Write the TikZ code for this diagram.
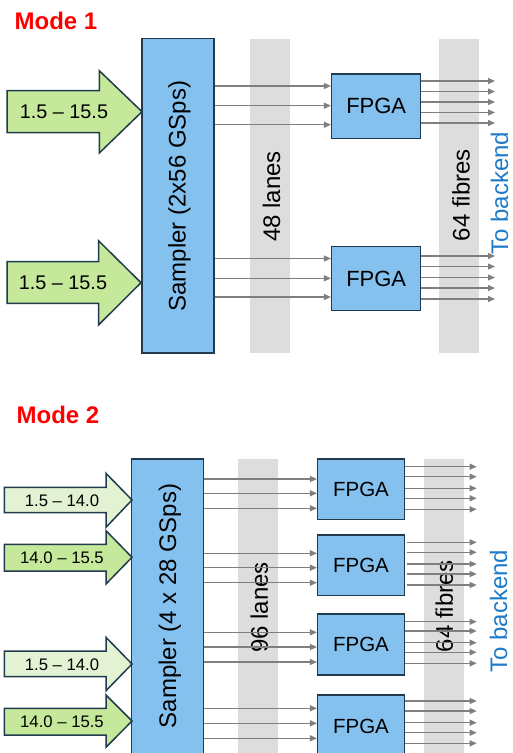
\documentclass[tikz,border=0pt]{standalone}
\usepackage{fontspec}
\setmainfont{Liberation Sans}
\usetikzlibrary{arrows.meta}
\definecolor{boxblue}{HTML}{85C1EE}
\definecolor{edgec}{HTML}{1F3B4D}
\definecolor{grn}{HTML}{C5E89B}
\definecolor{lgrn}{HTML}{E3F2D2}
\definecolor{bandc}{HTML}{DDDDDD}
\definecolor{wirec}{HTML}{7F7F7F}
\definecolor{backblue}{HTML}{1F7AC8}
\definecolor{modered}{HTML}{FF0000}
\begin{document}
\begin{tikzpicture}[x=1pt,y=-1pt,
  blk/.style={draw=edgec, line width=1.5pt, fill=boxblue, inner sep=0pt},
  bandbox/.style={fill=bandc, draw=none, inner sep=0pt, minimum width=40pt},
  wire/.style={draw=wirec, line width=1.3pt, -{Triangle[length=7pt,width=6pt]}},
  inarr/.style={draw=edgec, line width=1.5pt, line join=miter},
  big/.style={font=\fontsize{24}{28}\selectfont},
  backlbl/.style={font=\fontsize{24}{28}\selectfont, text=backblue, rotate=90, inner sep=0pt},
  modelbl/.style={font=\fontsize{24}{28}\selectfont\bfseries, text=modered},
  lbl/.style={font=\fontsize{19.8}{22}\selectfont},
  slbl/.style={font=\fontsize{16.7}{19}\selectfont}
]
\useasboundingbox (0,0) rectangle (513,753);
\clip (0,0) rectangle (513,753);

% ================= Mode 1 =================
\node[modelbl] (m1) at (56,20.5) {Mode 1};

\node[bandbox, minimum height=313.4pt] (B1) at (270,196) {};
\node[bandbox, minimum height=313.4pt] (B2) at (459.3,196) {};
\node[big, rotate=90] (B1t) at (271.5,196.5) {48 lanes};
\node[big, rotate=90] (B2t) at (461,195) {64 fibres};

\node[blk, minimum width=72pt, minimum height=314.3pt] (S1) at (178,195.85) {};
\node[big, rotate=90] (S1t) at (179.5,196) {Sampler (2x56 GSps)};

\node[blk, minimum width=89pt, minimum height=64.7pt] (F1a) at (376.2,106.35) {};
\node[font=\fontsize{22}{26}\selectfont] at (F1a) {FPGA};
\node[blk, minimum width=89pt, minimum height=64pt] (F1b) at (376.2,278.7) {};
\node[font=\fontsize{22}{26}\selectfont] at (F1b) {FPGA};

\draw[inarr, fill=grn] (7,90.7) -- (99.3,90.7) -- (99.3,70.7) -- (142,111.7) -- (99.3,153) -- (99.3,132.7) -- (7,132.7) -- cycle;
\node[lbl] (a1t) at (64,112) {1.5 – 15.5};
\draw[inarr, fill=grn] (7,261.7) -- (98.5,261.7) -- (98.5,240.7) -- (141,282.7) -- (98.5,325) -- (98.5,303.3) -- (7,303.3) -- cycle;
\node[lbl] (a2t) at (63,283) {1.5 – 15.5};

\foreach \y in {86,105.7,124.7} \draw[wire] (S1.east |- 0,\y) -- (F1a.west |- 0,\y);
\foreach \y in {258.5,278.3,297} \draw[wire] (S1.east |- 0,\y) -- (F1b.west |- 0,\y);
\foreach \y in {81,91.5,102,112.5,123} \draw[wire] (F1a.east |- 0,\y) -- (495,\y);
\foreach \y in {256,266.5,277.5,288,299} \draw[wire] (F1b.east |- 0,\y) -- (495,\y);

\node[backlbl] (tb1) at (499.5,193) {To backend};

% ================= Mode 2 =================
\node[modelbl] (m2) at (58,415) {Mode 2};

\node[bandbox, anchor=north, minimum height=310pt] (B3) at (258.3,459) {};
\node[bandbox, anchor=north, minimum height=310pt] (B4) at (444.2,459) {};
\node[big, rotate=90] (B3t) at (259.3,607.5) {96 lanes};
\node[big, rotate=90] (B4t) at (444.3,606) {64 fibres};

\node[blk, anchor=north, minimum width=71.6pt, minimum height=305pt] (S2) at (167.5,458.3) {};
\node[big, rotate=90] (S2t) at (170,606) {Sampler (4 x 28 GSps)};

\node[blk, minimum width=86.6pt, minimum height=60.3pt] (F2a) at (361,489.15) {};
\node[font=\fontsize{20.5}{24}\selectfont] at (F2a) {FPGA};
\node[blk, minimum width=86.6pt, minimum height=60.3pt] (F2b) at (361,565.15) {};
\node[font=\fontsize{20.5}{24}\selectfont] at (F2b) {FPGA};
\node[blk, minimum width=86.6pt, minimum height=61pt] (F2c) at (361,644.5) {};
\node[font=\fontsize{20.5}{24}\selectfont] at (F2c) {FPGA};
\node[blk, minimum width=86.6pt, minimum height=62pt] (F2d) at (361,726) {};
\node[font=\fontsize{20.5}{24}\selectfont] at (F2d) {FPGA};

\draw[inarr, fill=lgrn] (4.3,487.3) -- (106,487.3) -- (106,473.3) -- (132,500) -- (106,527.3) -- (106,512.7) -- (4.3,512.7) -- cycle;
\node[slbl] (a3t) at (62,500.5) {1.5 – 14.0};
\draw[inarr, fill=grn] (4.3,544.3) -- (106,544.3) -- (106,530.7) -- (132,557.3) -- (106,584) -- (106,571) -- (4.3,571) -- cycle;
\node[slbl] (a4t) at (62,557.5) {14.0 – 15.5};
\draw[inarr, fill=lgrn] (4.3,651) -- (106,651) -- (106,637.3) -- (132,664) -- (106,690.7) -- (106,676.7) -- (4.3,676.7) -- cycle;
\node[slbl] (a5t) at (62,664.5) {1.5 – 14.0};
\draw[inarr, fill=grn] (4.3,708.3) -- (106,708.3) -- (106,695) -- (132,721) -- (106,747.3) -- (106,735) -- (4.3,735) -- cycle;
\node[slbl] (a6t) at (62,721.5) {14.0 – 15.5};

\foreach \y in {479,493.3,508.3} \draw[wire] (S2.east |- 0,\y) -- (F2a.west |- 0,\y);
\foreach \y in {553.3,567.7,582.7} \draw[wire] (S2.east |- 0,\y) -- (F2b.west |- 0,\y);
\foreach \y in {632.3,647,662} \draw[wire] (S2.east |- 0,\y) -- (F2c.west |- 0,\y);
\foreach \y in {708.3,723.3,738.3} \draw[wire] (S2.east |- 0,\y) -- (F2d.west |- 0,\y);

\foreach \y in {466.7,476.7,488.3,498.3,509.3} \draw[wire] (F2a.east |- 0,\y) -- (476.7,\y);
\foreach \y in {542.3,552.3,564,574,585} \draw[wire] ([xshift=1.5pt]F2b.east |- 0,\y) -- (476.7,\y);
\foreach \y in {621.7,631,642.7,652.3,663.3} \draw[wire] (F2c.east |- 0,\y) -- (476.7,\y);
\foreach \y in {701,711,722.7,732.7,743.3} \draw[wire] (F2d.east |- 0,\y) -- (476.7,\y);

\node[backlbl] (tb2) at (498.5,611) {To backend};
\end{tikzpicture}
\end{document}
